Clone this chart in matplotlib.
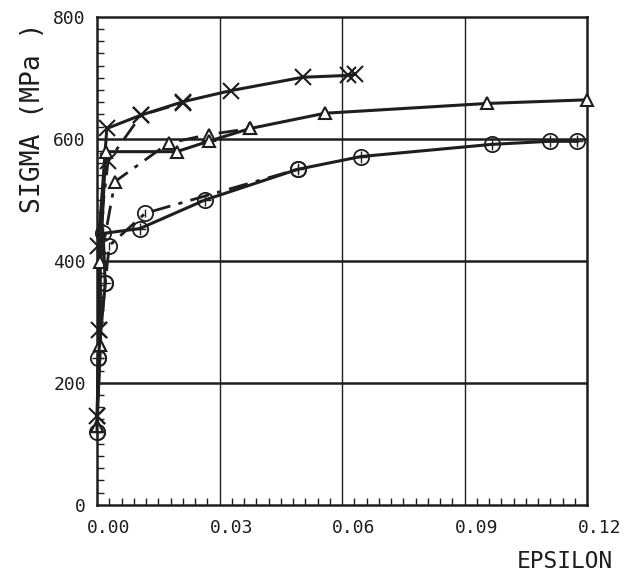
import numpy as np
import matplotlib
matplotlib.use("Agg")
import matplotlib.pyplot as plt
from matplotlib.ticker import MultipleLocator
from matplotlib.transforms import ScaledTranslation

# strain / stress data
# crosses
eps_x = [0.0, 0.0005, 0.0003, 0.0024, 0.0108, 0.0211, 0.0327, 0.0504, 0.0615, 0.0632]
sig_x = [145, 287, 425, 617, 639, 661, 679, 701, 704, 706]
eps_x_d = [0.0, 0.0005, 0.0003, 0.0027, 0.0108, 0.0211]
sig_x_d = [145, 287, 425, 563, 639, 659]

# triangles
eps_t = [0.0, 0.0008, 0.0008, 0.0021, 0.0195, 0.0273, 0.0375, 0.0558, 0.0954, 0.12]
sig_t = [130, 262, 398, 579, 579, 596, 617, 642, 658, 664]
eps_t_d = [0.0, 0.0008, 0.0008, 0.0044, 0.0175, 0.0273, 0.0375]
sig_t_d = [130, 262, 398, 530, 593, 607, 617]

# circles
eps_c = [0.0, 0.0003, 0.002, 0.0015, 0.0105, 0.0265, 0.0491, 0.0646, 0.0967, 0.1108, 0.1176]
sig_c = [120, 240, 363, 445, 453, 500, 550, 571, 591, 596, 596]
eps_c_d = [0.0, 0.0003, 0.002, 0.003, 0.0118, 0.0491]
sig_c_d = [120, 240, 363, 425, 478, 550]

xticks = [0.0, 0.03, 0.06, 0.09, 0.12]
xlabels = ["0.00", "0.03", "0.06", "0.09", "0.12"]
yticks = [0, 200, 400, 600, 800]

ink = "#1e1e1e"
plt.rcParams['font.family'] = ['DejaVu Sans Mono']

fig = plt.figure(figsize=(6.26, 5.81), dpi=100)
ax = fig.add_axes([0.155, 0.131, 0.783, 0.840])

# grid
for v in xticks[1:-1]:
    ax.axvline(v, color=ink, lw=1.0, zorder=1)
for v in yticks[1:-1]:
    ax.axhline(v, color=ink, lw=1.8, zorder=1)

lw = 2.2
dashdot = (0, (7, 3, 1.5, 3))
# solid curves
ax.plot(eps_x, sig_x, color=ink, lw=lw, marker="x", ms=11, mew=1.5, clip_on=False, zorder=3)
ax.plot(eps_t, sig_t, color=ink, lw=lw, marker="^", ms=8, mfc="white", mew=1.5, clip_on=False, zorder=3)
ax.plot(eps_c, sig_c, color=ink, lw=lw, marker="o", ms=11, mfc="none", mew=1.3, clip_on=False, zorder=3)
ax.plot(eps_c, sig_c, ls="none", color=ink, marker="+", ms=9, mew=1.0, clip_on=False, zorder=3)

# dash-dot curves
ax.plot(eps_x_d, sig_x_d, color=ink, lw=2.0, ls=dashdot, marker="x", ms=11, mew=1.5, zorder=2)
ax.plot(eps_t_d, sig_t_d, color=ink, lw=2.0, ls=dashdot, marker="^", ms=8, mfc="white", mew=1.5, zorder=2)
ax.plot(eps_c_d, sig_c_d, color=ink, lw=2.0, ls=dashdot, marker="o", ms=11, mfc="none", mew=1.3, zorder=2)
ax.plot(eps_c_d, sig_c_d, ls="none", color=ink, marker="|", ms=6, mew=1.0, zorder=2)

ax.set_xlim(0, 0.12)
ax.set_ylim(0, 800)
ax.set_xticks(xticks)
ax.set_xticklabels(xlabels)
ax.set_yticks(yticks)
ax.xaxis.set_minor_locator(MultipleLocator(0.003))
ax.yaxis.set_minor_locator(MultipleLocator(20))
ax.tick_params(which="major", length=0, labelsize=13, colors=ink, pad=10)
ax.tick_params(which="minor", direction="in", length=5, width=1, color=ink)
ax.tick_params(axis="y", pad=8)

offset = ScaledTranslation(12 / 100, 0, fig.dpi_scale_trans)
for lbl in ax.get_xticklabels():
    lbl.set_transform(lbl.get_transform() + offset)

for s in ax.spines.values():
    s.set_linewidth(1.8)
    s.set_color(ink)

fig.text(0.052, 0.797, "SIGMA (MPa )", rotation=90, ha="center", va="center",
         fontsize=19, color=ink)
fig.text(0.903, 0.033, "EPSILON", ha="center", va="center", fontsize=16.5, color=ink)

fig.savefig("out.png", dpi=100)
